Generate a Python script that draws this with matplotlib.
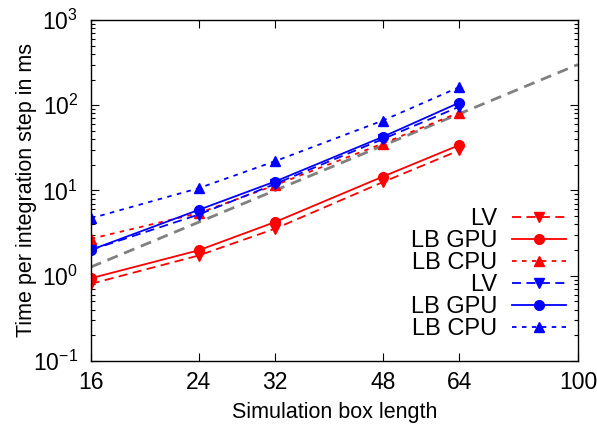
import matplotlib
matplotlib.use("Agg")
import matplotlib.pyplot as plt
from matplotlib.ticker import FixedLocator, NullFormatter, LogLocator

plt.rcParams['font.family'] = ['Liberation Sans', 'DejaVu Sans']

# box lengths
box = [16, 24, 32, 48, 64]

# red series
red_lv = [0.80, 1.72, 3.55, 12.5, 29.5]
red_gpu = [0.93, 1.98, 4.25, 14.5, 34.0]
red_cpu = [2.7, 5.4, 11.5, 35.5, 82.0]

# blue series
blue_lv = [2.0, 5.2, 11.9, 40.0, 96.0]
blue_gpu = [2.0, 5.9, 12.7, 42.5, 107.0]
blue_cpu = [4.7, 10.6, 22.0, 66.0, 163.0]

# reference line end points (~L^3)
ref_x = [16, 100]
ref_y = [1.26, 300.0]

xticks = [16, 24, 32, 48, 64, 100]

fig = plt.figure(figsize=(5.97, 4.25), dpi=100)
ax = fig.add_axes([0.152, 0.151, 0.816, 0.802])

ax.plot(ref_x, ref_y, color='#808080', lw=2, dashes=(4, 2.5))

lw = 1.3
ms = 7
ax.plot(box, red_lv, color='#ff0000', lw=lw, dashes=(5, 3), marker='v', ms=ms, label='LV')
ax.plot(box, red_gpu, color='#ff0000', lw=lw, marker='o', ms=ms, label='LB GPU')
ax.plot(box, red_cpu, color='#ff0000', lw=lw, dashes=(2.5, 3), marker='^', ms=ms, label='LB CPU')
ax.plot(box, blue_lv, color='#0000ff', lw=lw, dashes=(5, 3), marker='v', ms=ms, label='LV')
ax.plot(box, blue_gpu, color='#0000ff', lw=lw, marker='o', ms=ms, label='LB GPU')
ax.plot(box, blue_cpu, color='#0000ff', lw=lw, dashes=(2.5, 3), marker='^', ms=ms, label='LB CPU')

ax.set_xscale('log')
ax.set_yscale('log')
ax.set_xlim(16, 100)
ax.set_ylim(0.1, 1000)

ax.xaxis.set_major_locator(FixedLocator(xticks))
ax.set_xticklabels([str(t) for t in xticks])
ax.xaxis.set_minor_locator(FixedLocator([]))
ax.xaxis.set_minor_formatter(NullFormatter())
ax.yaxis.set_major_locator(LogLocator(base=10, numticks=10))
ax.yaxis.set_minor_locator(LogLocator(base=10, subs=range(2, 10), numticks=20))
ax.yaxis.set_minor_formatter(NullFormatter())

ax.tick_params(which='both', direction='in', top=True, right=True, labelsize=16.5, width=0.8)
ax.tick_params(which='major', length=6)
ax.tick_params(axis='x', which='major', pad=7)
ax.tick_params(axis='y', which='major', pad=9)
ax.tick_params(which='minor', length=3)
for s in ax.spines.values():
    s.set_linewidth(1.0)

ax.set_xlabel('Simulation box length', fontsize=15.5, labelpad=6)
ax.set_ylabel('Time per integration step in ms', fontsize=15.5, labelpad=-3)

leg = ax.legend(loc='lower right', bbox_to_anchor=(1.008, 0.015), frameon=False, markerfirst=False,
                fontsize=16.5, handlelength=2.35, labelspacing=0.0, handletextpad=0.65, borderpad=0.2)
for t in leg.get_texts():
    t.set_fontsize(17)

fig.savefig('out.png', dpi=100)
